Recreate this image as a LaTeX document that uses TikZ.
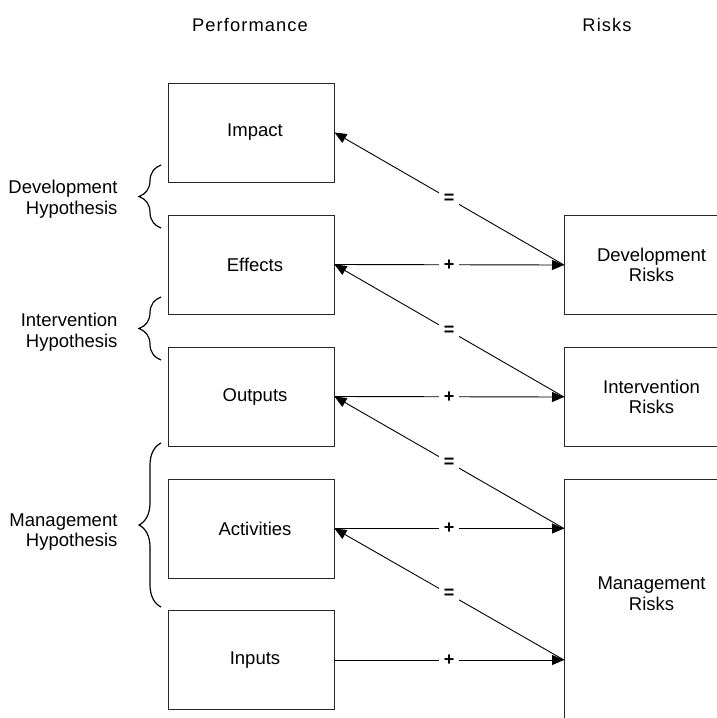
\documentclass[tikz,border=0pt]{standalone}
\usepackage{fontspec}
\setmainfont{Liberation Sans}
\usetikzlibrary{arrows.meta,decorations.pathreplacing}
\begin{document}
\begin{tikzpicture}[x=1pt,y=-1pt,
  txt/.style={font=\fontsize{18.5}{20.5}\selectfont},
  box/.style={txt,draw=black!85,line width=1pt,minimum width=166pt,minimum height=99pt,inner sep=0pt,align=center},
  rbox/.style={box,anchor=north west},
  arr/.style={-{Triangle[length=12pt,width=10pt]},line width=0.9pt},
  sym/.style={fill=white,inner sep=4.5pt,font=\fontsize{18}{18}\selectfont\bfseries},
  brc/.style={decorate,decoration={brace,amplitude=22pt},line width=1.2pt},
  hyp/.style={txt,anchor=east,align=right},
  head/.style={font=\fontsize{18.3}{20.5}\selectfont\addfontfeatures{LetterSpace=6}}
]
\useasboundingbox (0,0) rectangle (717,718);
\clip (0,0) rectangle (717,718);

% headers
\node[head] (hperf) at (250,25) {Performance};
\node[head] (hrisk) at (607,25) {Risks};

% performance boxes
\node[box] (imp) at (251,132.5) {\hspace*{8pt}Impact};
\node[box] (eff) at (251,264.5) {\hspace*{8pt}Effects};
\node[box] (out) at (251,396.5) {\hspace*{8pt}Outputs};
\node[box] (act) at (251,528.5) {\hspace*{8pt}Activities};
\node[box] (inp) at (251,660) {\hspace*{8pt}Inputs};

% risk boxes
\node[rbox] (dr) at (564,215) {\hspace*{8pt}Development\\\hspace*{8pt}Risks};
\node[rbox] (ir) at (564,347) {\hspace*{8pt}Intervention\\\hspace*{8pt}Risks};
\node[rbox,draw=none,minimum height=228pt] (mr) at (564,479) {\hspace*{8pt}Management\\\hspace*{8pt}Risks};
\draw[draw=black!85,line width=1pt] ([yshift=-40pt]mr.south west) -- (mr.north west) -- (mr.north east) -- ([yshift=-40pt]mr.south east);

% hypotheses
\node[hyp] (hd) at (121,199) {Development\\Hypothesis};
\node[hyp] (hi) at (121,332) {Intervention\\Hypothesis};
\node[hyp] (hm) at (121,532) {Management\\Hypothesis};
\draw[brc] (161,228) -- (161,165);
\draw[brc] (161,360) -- (161,297);
\draw[brc] (161,607) -- (161,443);

% connectors
\coordinate (ma) at (mr.west |- act.east);
\coordinate (mi) at (mr.west |- inp.east);
\draw[arr] (dr.west) -- node[sym]{=} (imp.east);
\draw[arr] (eff.east) -- node[sym]{+} (dr.west);
\draw[arr] (ir.west) -- node[sym]{=} (eff.east);
\draw[arr] (out.east) -- node[sym]{+} (ir.west);
\draw[arr] (ma) -- node[sym]{=} (out.east);
\draw[arr] (act.east) -- node[sym]{+} (ma);
\draw[arr] (mi) -- node[sym]{=} (act.east);
\draw[arr] (inp.east) -- node[sym]{+} (mi);
\end{tikzpicture}
\end{document}
